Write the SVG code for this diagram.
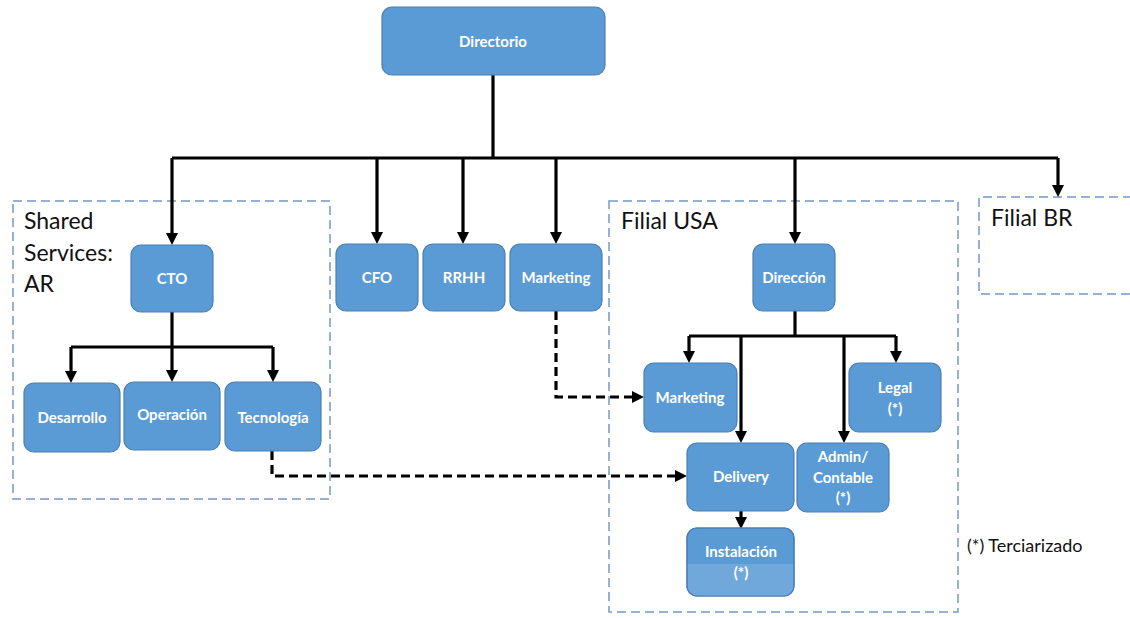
<svg xmlns="http://www.w3.org/2000/svg" width="1130" height="618" viewBox="0 0 1130 618">
  <style>
    .node rect { fill: #5b9bd5; stroke: #4a7fb5; stroke-width: 1.2; }
    .node text { fill: #ffffff; font-family: Lato, "Open Sans", sans-serif; font-weight: bold; font-size: 15px; text-anchor: middle; }
    .group { fill: none; stroke: #7399c6; stroke-width: 1.5; stroke-dasharray: 9 5; }
    .glabel { fill: #111111; font-family: Lato, "Open Sans", sans-serif; font-size: 23px; }
    .solid { fill: none; stroke: #000000; stroke-width: 3.2; }
    .dashed { fill: none; stroke: #000000; stroke-width: 3.2; stroke-dasharray: 9 5; }
    .note { fill: #111111; font-family: Lato, "Open Sans", sans-serif; font-size: 18px; }
  </style>
  <defs>
    <marker id="arrow" viewBox="0 0 10 10" refX="0" refY="5" markerWidth="12" markerHeight="12" markerUnits="userSpaceOnUse" orient="auto">
      <path d="M0,0 L10,5 L0,10 z" fill="#000000"/>
    </marker>
  </defs>

  <!-- grouping frames -->
  <g id="frames">
    <rect class="group" x="13" y="201" width="317" height="298"/>
    <text class="glabel" x="24" y="229">Shared</text>
    <text class="glabel" x="24" y="261">Services:</text>
    <text class="glabel" x="24" y="292">AR</text>

    <rect class="group" x="609" y="201" width="349" height="411"/>
    <text class="glabel" x="621" y="229">Filial USA</text>

    <path class="group" d="M1132,197 H979 V294 H1132"/>
    <text class="glabel" x="991" y="226">Filial BR</text>
  </g>

  <!-- connectors -->
  <g id="connectors">
    <path class="solid" d="M493,75 V158"/>
    <path class="solid" d="M172,158 H1058"/>
    <path class="solid" d="M172,158 V233" marker-end="url(#arrow)"/>
    <path class="solid" d="M377,158 V232" marker-end="url(#arrow)"/>
    <path class="solid" d="M463,158 V232" marker-end="url(#arrow)"/>
    <path class="solid" d="M556,158 V232" marker-end="url(#arrow)"/>
    <path class="solid" d="M795,158 V232" marker-end="url(#arrow)"/>
    <path class="solid" d="M1058,158 V185" marker-end="url(#arrow)"/>

    <path class="solid" d="M172,312 V347"/>
    <path class="solid" d="M71,347 H273"/>
    <path class="solid" d="M71,347 V371" marker-end="url(#arrow)"/>
    <path class="solid" d="M172,347 V370" marker-end="url(#arrow)"/>
    <path class="solid" d="M273,347 V370" marker-end="url(#arrow)"/>

    <path class="solid" d="M795,311 V336"/>
    <path class="solid" d="M689,336 H896"/>
    <path class="solid" d="M689,336 V351" marker-end="url(#arrow)"/>
    <path class="solid" d="M741,336 V431" marker-end="url(#arrow)"/>
    <path class="solid" d="M844,336 V431" marker-end="url(#arrow)"/>
    <path class="solid" d="M896,336 V351" marker-end="url(#arrow)"/>
    <path class="solid" d="M741,511 V517" marker-end="url(#arrow)"/>

    <path class="dashed" d="M556,311 V397 H632" marker-end="url(#arrow)"/>
    <path class="dashed" d="M272,451 V476 H675" marker-end="url(#arrow)"/>
  </g>

  <!-- nodes -->
  <g id="directorio" class="node">
    <rect x="382" y="7" width="223" height="68" rx="10"/>
    <text x="493" y="47">Directorio</text>
  </g>
  <g id="cto" class="node">
    <rect x="131" y="245" width="82" height="67" rx="10"/>
    <text x="172" y="284">CTO</text>
  </g>
  <g id="desarrollo" class="node">
    <rect x="24" y="383" width="96" height="69" rx="10"/>
    <text x="72" y="423">Desarrollo</text>
  </g>
  <g id="operacion" class="node">
    <rect x="124" y="382" width="96" height="68" rx="10"/>
    <text x="172" y="420">Operación</text>
  </g>
  <g id="tecnologia" class="node">
    <rect x="225" y="382" width="96" height="69" rx="10"/>
    <text x="273" y="423">Tecnología</text>
  </g>
  <g id="cfo" class="node">
    <rect x="336" y="244" width="82" height="67" rx="10"/>
    <text x="377" y="283">CFO</text>
  </g>
  <g id="rrhh" class="node">
    <rect x="423" y="244" width="82" height="67" rx="10"/>
    <text x="464" y="283">RRHH</text>
  </g>
  <g id="marketing" class="node">
    <rect x="510" y="244" width="92" height="67" rx="10"/>
    <text x="556" y="283">Marketing</text>
  </g>
  <g id="direccion" class="node">
    <rect x="753" y="244" width="82" height="67" rx="10"/>
    <text x="794" y="283">Dirección</text>
  </g>
  <g id="marketing-usa" class="node">
    <rect x="644" y="363" width="93" height="69" rx="10"/>
    <text x="690" y="403">Marketing</text>
  </g>
  <g id="legal" class="node">
    <rect x="849" y="363" width="92" height="69" rx="10"/>
    <text x="895" y="393">Legal</text>
    <text x="895" y="414">(*)</text>
  </g>
  <g id="delivery" class="node">
    <rect x="687" y="443" width="107" height="68" rx="10"/>
    <text x="741" y="482">Delivery</text>
  </g>
  <g id="admin-contable" class="node">
    <rect x="797" y="443" width="92" height="69" rx="10"/>
    <text x="843" y="462">Admin/</text>
    <text x="843" y="483">Contable</text>
    <text x="843" y="503">(*)</text>
  </g>
  <g id="instalacion" class="node">
    <rect x="687" y="528" width="107" height="68" rx="10"/>
    <path d="M687.6,564 H793.4 V586 a10,10 0 0 1 -10,10 H697.6 a10,10 0 0 1 -10,-10 z" fill="#70a8dc"/>
    <rect x="687" y="528" width="107" height="68" rx="10" style="fill:none"/>
    <text x="741" y="557">Instalación</text>
    <text x="741" y="578">(*)</text>
  </g>

  <!-- legend -->
  <text class="note" x="967" y="552">(*) Terciarizado</text>
</svg>
